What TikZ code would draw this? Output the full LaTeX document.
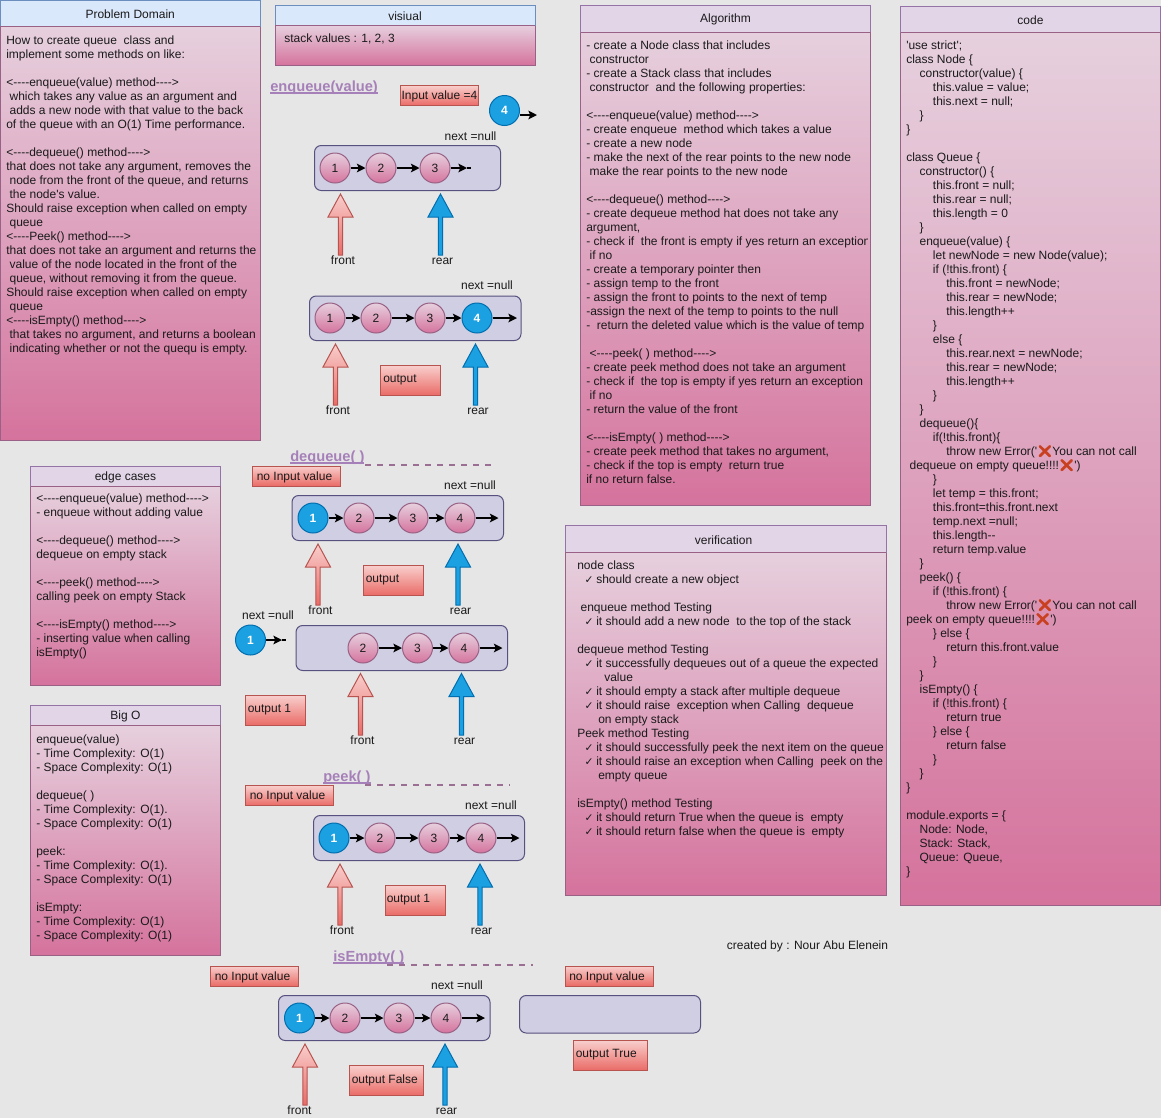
\documentclass[tikz,border=0pt]{standalone}
\usepackage{fontspec}
\usetikzlibrary{arrows.meta}
\newfontfamily\ar{Liberation Sans}
\newfontfamily\djf{DejaVu Sans}
\newfontfamily\emo[FakeBold=2.5]{Noto Emoji}
\definecolor{bgc}{HTML}{E6E6E6}
\definecolor{pinkt}{HTML}{E6D0DE}
\definecolor{pinkb}{HTML}{D5739D}
\definecolor{pinkl}{HTML}{996185}
\definecolor{blueh}{HTML}{DAE8FC}
\definecolor{bluel}{HTML}{6C8EBF}
\definecolor{purph}{HTML}{E1D5E7}
\definecolor{purpl}{HTML}{9673A6}
\definecolor{redt}{HTML}{F8CECC}
\definecolor{redb}{HTML}{EA6B66}
\definecolor{redl}{HTML}{B85450}
\definecolor{cyanf}{HTML}{1BA1E2}
\definecolor{cyanl}{HTML}{006EAF}
\definecolor{contf}{HTML}{D0CEE2}
\definecolor{contl}{HTML}{56517E}
\definecolor{headc}{HTML}{A680B8}
\definecolor{dashc}{HTML}{9B6F94}
\definecolor{inkc}{HTML}{1A1A1A}
\definecolor{xred}{HTML}{C8401F}
\tikzset{
  txt/.style={font=\ar\fontsize{9}{10.5}\selectfont,text=inkc,inner sep=0pt},
  bodytxt/.style={txt,align=left,anchor=north west,yshift=4.35pt},
  titletxt/.style={txt,yshift=-0.75pt},
  boxtxt/.style={txt,yshift=-0.75pt},
  panelbody/.style={draw=pinkl,line width=0.75pt,top color=pinkt,bottom color=pinkb},
  redbox/.style={draw=redl,line width=0.75pt,top color=redt,bottom color=redb},
  container/.style={draw=contl,fill=contf,line width=0.75pt,rounded corners=5pt},
  pinkc/.style={circle,draw=pinkl,line width=0.75pt,minimum size=22.5pt,inner sep=0pt,top color=pinkt,bottom color=pinkb,font=\ar\fontsize{9}{10.5}\selectfont,text=inkc},
  bluec/.style={circle,draw=cyanl,line width=0.75pt,minimum size=22.5pt,inner sep=0pt,fill=cyanf,font=\ar\bfseries\fontsize{9}{10.5}\selectfont,text=white},
  link/.style={line width=1.2pt,draw=black,-{Stealth[length=6.5pt,width=6.5pt,inset=1.5pt]}},
  stub/.style={line width=1.2pt,draw=black},
  redup/.style={draw=redl,line width=0.75pt,top color=redt,bottom color=redb},
  blueup/.style={draw=cyanl,line width=0.75pt,fill=cyanf},
  heading/.style={font=\ar\bfseries\fontsize{11}{13}\selectfont,text=headc,inner sep=0pt,anchor=base west},
  dashline/.style={draw=dashc,line width=1.5pt,dash pattern=on 4.5pt off 4.5pt},
}
\newcommand\panel[9]{%
  \draw[panelbody] (#2,#5) rectangle (#4,#6);
  \draw[draw=#9,fill=#8,line width=0.75pt] (#2,#3) rectangle (#4,#5) node[midway,titletxt] (#1) {#7};
  \draw[draw=pinkl,line width=0.75pt] (#2,#5) -- (#4,#5);
}
\newcommand\bodytext[4]{\node[bodytxt] (#1) at (#2,#3) {\strut #4};}
\newcommand\outbox[7]{\draw[redbox] (#2,#3) rectangle (#4,#5);\node[txt,anchor=west] (#1) at (#6,{(#3+#5)/2-0.5}) {#7};}
\newcommand\inbox[6]{\draw[redbox] (#2,#3) rectangle (#4,#5) node[midway,boxtxt] (#1) {#6};}
\newcommand\pc[4]{\node[pinkc] (#1) at (#2,#3) {#4};}
\newcommand\bc[4]{\node[bluec] (#1) at (#2,#3) {#4};}
\newcommand\blockarrow[7]{\draw[#7] (#1,#2) -- ({#1+12.5},{#2+23}) -- ({#1+2.2},{#2+23}) -- ({#1+2.2},#3) -- ({#1-2.2},#3) -- ({#1-2.2},{#2+23}) -- ({#1-12.5},{#2+23}) -- cycle;\node[txt,anchor=base] (#4) at (#6,{#3+9.5}) {#5};}
\newcommand\lv[1]{\hspace*{#10pt}}
\newcommand\xx{{\emo\textcolor{xred}{\symbol{"274C}}}}
\newcommand\ck{\hspace*{5.5pt}\makebox[8.75pt][l]{\djf\fontsize{8}{10.5}\selectfont ✓}}
\newcommand\ulh[1]{\setbox0\hbox{#1}\rlap{\raisebox{-1.9pt}{\rule{\wd0}{0.8pt}}}\box0 }
\begin{document}
\begin{tikzpicture}[x=0.75pt,y=-0.75pt]
\path[fill=bgc] (0,0) rectangle (1161,1118);
\useasboundingbox (0,0) rectangle (1161,1118);

%% Problem Domain
\panel{pdT}{0.5}{0.5}{260}{26}{440}{Problem Domain}{blueh}{bluel}
\bodytext{pdB}{6}{40}{How to create queue~ class and\\
implement some methods on like:\\
~\\
<----enqueue(value) method---->\\
~which takes any value as an argument and\\
~adds a new node with that value to the back\\
of the queue with an O(1) Time performance.\\
~\\
<----dequeue() method---->\\
that does not take any argument, removes the\\
~node from the front of the queue, and returns\\
~the node's value.\\
Should raise exception when called on empty\\
~queue\\
<----Peek() method---->\\
that does not take an argument and returns the\\
~value of the node located in the front of the\\
~queue, without removing it from the queue.\\
Should raise exception when called on empty\\
~queue\\
<----isEmpty() method---->\\
~that takes no argument, and returns a boolean\\
~indicating whether or not the quequ is empty.}

%% visiual
\panel{viT}{275}{5}{535}{25}{65}{visiual}{blueh}{bluel}
\bodytext{viB}{284}{38.5}{stack values : 1, 2, 3}

%% Algorithm
\panel{alT}{580.5}{5}{870.5}{32}{505}{Algorithm}{purph}{purpl}
\begin{scope}
\clip (580,5) rectangle (867,505);
\bodytext{alB}{586}{45}{- create a Node class that includes\\
~constructor\\
- create a Stack class that includes\\
~constructor~ and the following properties:\\
~\\
<----enqueue(value) method---->\\
- create enqueue~ method which takes a value\\
- create a new node\\
- make the next of the rear points to the new node\\
~make the rear points to the new node\\
~\\
<----dequeue() method---->\\
- create dequeue method hat does not take any\\
argument,\\
- check if~ the front is empty if yes return an exception\\
~if no\\
- create a temporary pointer then\\
- assign temp to the front\\
- assign the front to points to the next of temp\\
-assign the next of the temp to points to the null\\
-~ return the deleted value which is the value of temp\\
~\\
~<----peek( ) method---->\\
- create peek method does not take an argument\\
- check if~ the top is empty if yes return an exception\\
~if no\\
- return the value of the front\\
~\\
<----isEmpty( ) method---->\\
- create peek method that takes no argument,\\
- check if the top is empty~ return true\\
if no return false.}
\end{scope}

%% code
\panel{coT}{900.5}{6}{1160.5}{32}{905}{code}{purph}{purpl}
\bodytext{coB}{906}{45}{'use strict';\\
class Node \{\\
\lv1constructor(value) \{\\
\lv2this.value = value;\\
\lv2this.next = null;\\
\lv1\}\\
\}\\
~\\
class Queue \{\\
\lv1constructor() \{\\
\lv2this.front = null;\\
\lv2this.rear = null;\\
\lv2this.length = 0\\
\lv1\}\\
\lv1enqueue(value) \{\\
\lv2let newNode = new Node(value);\\
\lv2if (!this.front) \{\\
\lv3this.front = newNode;\\
\lv3this.rear = newNode;\\
\lv3this.length++\\
\lv2\}\\
\lv2else \{\\
\lv3this.rear.next = newNode;\\
\lv3this.rear = newNode;\\
\lv3this.length++\\
\lv2\}\\
\lv1\}\\
\lv1dequeue()\{\\
\lv2if(!this.front)\{\\
\lv3throw new Error('\xx You can not call\\
~dequeue on empty queue!!!!\xx')\\
\lv2\}\\
\lv2let temp = this.front;\\
\lv2this.front=this.front.next\\
\lv2temp.next =null;\\
\lv2this.length--\\
\lv2return temp.value\\
\lv1\}\\
\lv1peek() \{\\
\lv2if (!this.front) \{\\
\lv3throw new Error('\xx You can not call\\
peek on empty queue!!!!\xx')\\
\lv2\} else \{\\
\lv3return this.front.value\\
\lv2\}\\
\lv1\}\\
\lv1isEmpty() \{\\
\lv2if (!this.front) \{\\
\lv3return true\\
\lv2\} else \{\\
\lv3return false\\
\lv2\}\\
\lv1\}\\
\}\\
~\\
module.exports = \{\\
\lv1Node: Node,\\
\lv1Stack: Stack,\\
\lv1Queue: Queue,\\
\}}

%% verification
\panel{veT}{565}{525.5}{886}{552}{895}{verification\kern3pt}{purph}{purpl}
\bodytext{veB}{577}{565}{node class\\
\ck should create a new object\\
~\\
~enqueue method Testing\\
\ck it should add a new node~ to the top of the stack\\
~\\
dequeue method Testing\\
\ck it successfully dequeues out of a queue the expected\\
\hspace*{20.25pt}value\\
\ck it should empty a stack after multiple dequeue\\
\ck it should raise~ exception when Calling~ dequeue\\
\hspace*{15.75pt}on empty stack\\
Peek method Testing\\
\ck it should successfully peek the next item on the queue\\
\ck it should raise an exception when Calling~ peek on the\\
\hspace*{15.75pt}empty queue\\
~\\
isEmpty() method Testing\\
\ck it should return True when the queue is~ empty\\
\ck it should return false when the queue is~ empty}

%% edge cases
\panel{edT}{30.5}{466}{220.5}{486}{685}{edge cases}{purph}{purpl}
\bodytext{edB}{36}{498}{<----enqueue(value) method---->\\
- enqueue without adding value\\
~\\
<----dequeue() method---->\\
dequeue on empty stack\\
~\\
<----peek() method---->\\
calling peek on empty Stack\\
~\\
<----isEmpty() method---->\\
- inserting value when calling\\
isEmpty()}

%% Big O
\panel{boT}{30.5}{705}{220.5}{725}{955}{Big O}{purph}{purpl}
\bodytext{boB}{36}{739}{enqueue(value)\\
- Time Complexity: O(1)\\
- Space Complexity: O(1)\\
~\\
dequeue( )\\
- Time Complexity: O(1).\\
- Space Complexity: O(1)\\
~\\
peek:\\
- Time Complexity: O(1).\\
- Space Complexity: O(1)\\
~\\
isEmpty:\\
- Time Complexity: O(1)\\
- Space Complexity: O(1)}

\node[txt] (credit) at (807.5,946) {created by : Nour Abu Elenein};

%% enqueue
\node[heading] (enqH) at (270,91) {\ulh{enqueue(value)}};
\inbox{enqIn}{400.5}{85.5}{478.5}{105.5}{Input value =4}
\bc{enqN}{504.5}{110.5}{4}
\coordinate (enqNs) at (520,115);
\coordinate (enqNe) at (537,115);
\draw[link] (enqNs) -- (enqNe);

\node[txt] (enqAn) at (470.5,136) {next =null};
\draw[container] (314.5,145.5) rectangle (500.5,190.5);
\pc{a1}{335}{168}{1}\pc{a2}{381}{168}{2}\pc{a3}{435}{168}{3}
\coordinate (a3m) at (467,168);\coordinate (a3e) at (471,168);
\draw[link] (a1) -- (a2);\draw[link] (a2) -- (a3);
\draw[stub] (a3m) -- (a3e);\draw[link] (a3) -- (a3m);
\blockarrow{340.5}{194}{255}{aF}{front}{343}{redup}
\blockarrow{440.5}{194}{255}{aR}{rear}{442.5}{blueup}

\node[txt] (enqBn) at (487,285) {next =null};
\draw[container] (309.5,296) rectangle (521,340.5);
\pc{b1}{330}{318}{1}\pc{b2}{376}{318}{2}\pc{b3}{430}{318}{3}\bc{b4}{477}{318}{4}
\coordinate (b4e) at (517,318);
\draw[link] (b1) -- (b2);\draw[link] (b2) -- (b3);\draw[link] (b3) -- (b4);\draw[link] (b4) -- (b4e);
\blockarrow{335.5}{344}{405}{bF}{front}{338}{redup}
\blockarrow{475.5}{344}{405}{bR}{rear}{478}{blueup}
\outbox{bO}{380.5}{365.5}{440.5}{395.5}{383}{output}

%% dequeue
\node[heading] (deqH) at (290,461) {\ulh{dequeue( )}};
\coordinate (deqL1) at (365,465);\coordinate (deqL2) at (491,465);
\draw[dashline] (deqL1) -- (deqL2);
\inbox{deqIn}{252.5}{466}{340.5}{486}{no Input value\kern3pt}
\node[txt] (deqAn) at (470,485.5) {next =null};
\draw[container] (292,495.5) rectangle (503.5,540.5);
\bc{c1}{313}{518}{1}\pc{c2}{359}{518}{2}\pc{c3}{413}{518}{3}\pc{c4}{460}{518}{4}
\coordinate (c4e) at (498.5,518);
\draw[link] (c1) -- (c2);\draw[link] (c2) -- (c3);\draw[link] (c3) -- (c4);\draw[link] (c4) -- (c4e);
\blockarrow{318}{544}{605}{cF}{front}{320.5}{redup}
\blockarrow{458}{544}{605}{cR}{rear}{460.5}{blueup}
\outbox{cO}{363}{565.5}{423}{595.5}{365.5}{output}

\node[txt] (deqBn) at (268,615.5) {next =null};
\bc{dOut}{250.5}{640}{1}
\coordinate (dOutm) at (282,640);\coordinate (dOute) at (286,640);
\draw[stub] (dOutm) -- (dOute);\draw[link] (dOut) -- (dOutm);
\draw[container] (296,625.5) rectangle (507.5,670.5);
\pc{d2}{363}{648}{2}\pc{d3}{417.5}{648}{3}\pc{d4}{464}{648}{4}
\coordinate (d4e) at (502.5,648);
\draw[link] (d2) -- (d3);\draw[link] (d3) -- (d4);\draw[link] (d4) -- (d4e);
\blockarrow{360.5}{673.5}{735}{dF}{front}{362.5}{redup}
\blockarrow{461.5}{673.5}{735}{dR}{rear}{464.5}{blueup}
\outbox{dO}{245.5}{695.5}{305.5}{725.5}{247.5}{output 1}

%% peek
\node[heading] (peekH) at (323,781) {\ulh{peek( )}};
\coordinate (peekL1) at (365,785);\coordinate (peekL2) at (510,785);
\draw[dashline] (peekL1) -- (peekL2);
\inbox{peekIn}{245.5}{785.5}{333.5}{805.5}{no Input value\kern3pt}
\node[txt] (peekn) at (491,805.5) {next =null};
\draw[container] (313.5,815.5) rectangle (524.5,860.5);
\bc{e1}{334}{838}{1}\pc{e2}{380}{838}{2}\pc{e3}{434}{838}{3}\pc{e4}{481}{838}{4}
\coordinate (e4e) at (519.5,838);
\draw[link] (e1) -- (e2);\draw[link] (e2) -- (e3);\draw[link] (e3) -- (e4);\draw[link] (e4) -- (e4e);
\blockarrow{340}{864}{925}{eF}{front}{342}{redup}
\blockarrow{480}{864}{925}{eR}{rear}{481.5}{blueup}
\outbox{eO}{385}{885.5}{445}{915.5}{386.5}{output 1}

%% isEmpty
\node[heading] (isH) at (333,961) {\ulh{isEmpty( )}};
\coordinate (isL1) at (387,965);\coordinate (isL2) at (533,965);
\draw[dashline] (isL1) -- (isL2);
\inbox{isIn}{210.5}{966}{298.5}{986}{no Input value\kern3pt}
\inbox{isIn2}{565}{966}{653}{986}{no Input value\kern3pt}
\node[txt] (isn) at (457,985.5) {next =null};
\draw[container] (278.5,995.5) rectangle (490,1040.5);
\bc{f1}{299.5}{1018}{1}\pc{f2}{345}{1018}{2}\pc{f3}{399}{1018}{3}\pc{f4}{446}{1018}{4}
\coordinate (f4e) at (485,1018);
\draw[link] (f1) -- (f2);\draw[link] (f2) -- (f3);\draw[link] (f3) -- (f4);\draw[link] (f4) -- (f4e);
\blockarrow{305}{1044}{1105}{fF}{front}{299.5}{redup}
\blockarrow{445}{1044}{1105}{fR}{rear}{446.5}{blueup}
\outbox{fO}{349.5}{1065.5}{423.5}{1095.5}{351.5}{output False}
\draw[container] (519.5,995.5) rectangle (700.5,1033);
\outbox{gO}{573.5}{1040.5}{647}{1070.5}{575.5}{output True}
\end{tikzpicture}
\end{document}
